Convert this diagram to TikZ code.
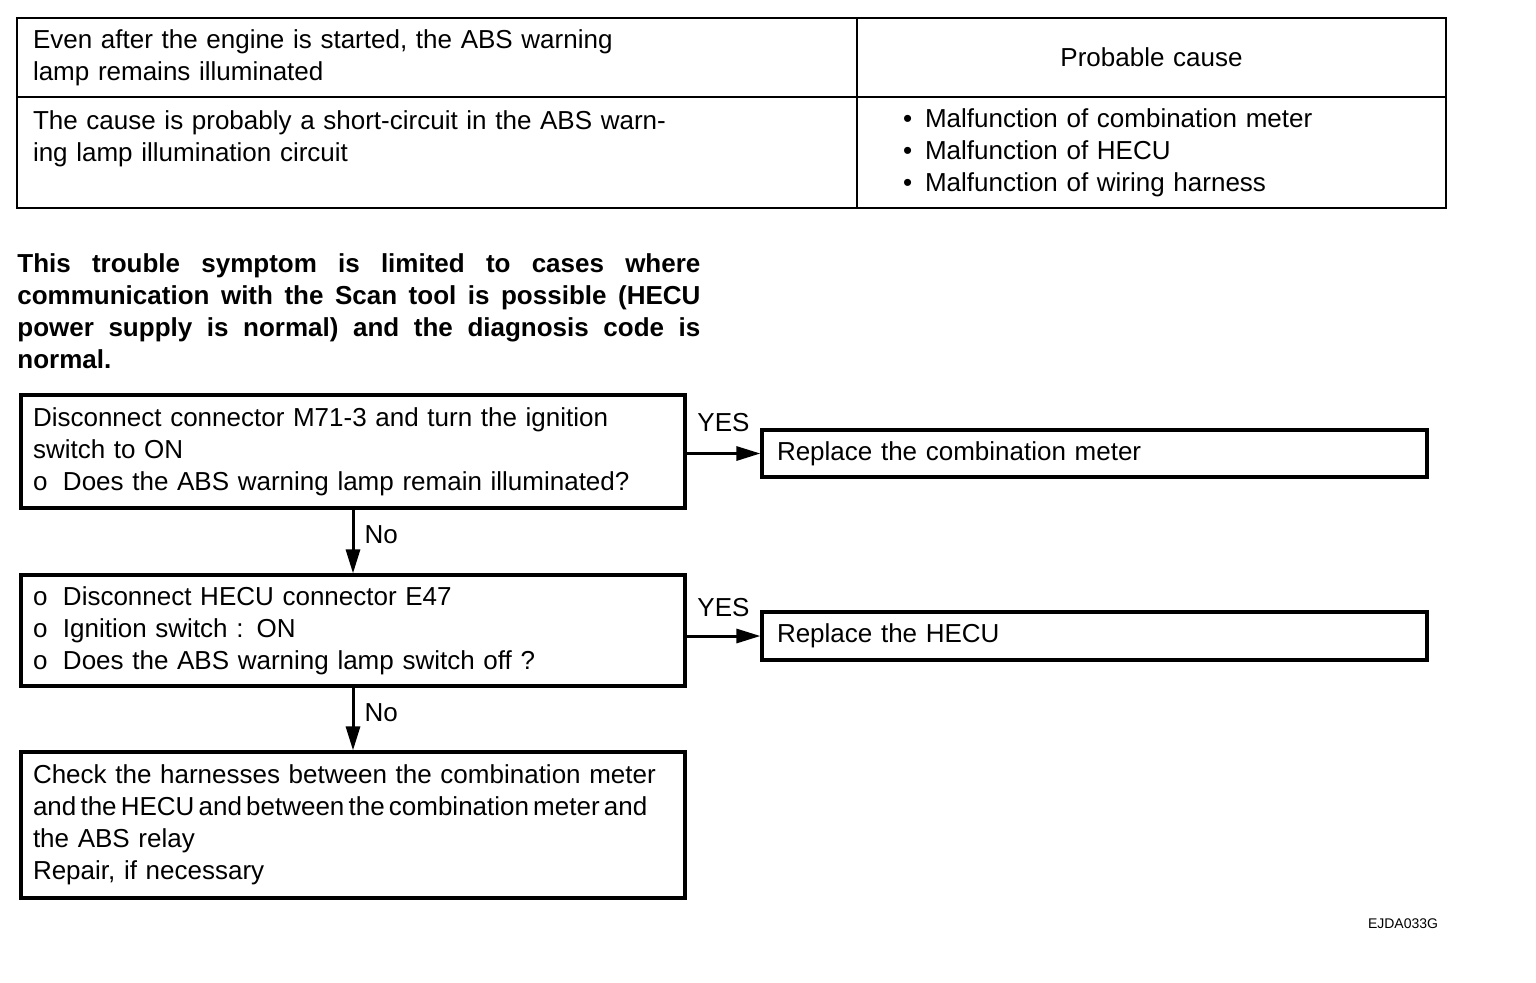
\documentclass[tikz,border=0pt]{standalone}
\usepackage{fontspec}
\setmainfont{Liberation Sans}
\usetikzlibrary{arrows.meta, positioning}

\begin{document}
\begin{tikzpicture}[x=0.5pt, y=-0.5pt,
  every node/.style={font=\fontsize{13}{16}\selectfont},
  tcell/.style={draw, line width=1.1pt, inner xsep=8pt, inner ysep=0pt, align=left},
  stepbox/.style={draw, line width=1.6pt, inner xsep=6pt, inner ysep=0pt, text width=320pt, align=left},
  fixbox/.style={draw, line width=1.6pt, inner xsep=7.5pt, inner ysep=0pt, text width=317.5pt, align=left},
  flow/.style={line width=1.5pt, -{Triangle[length=12pt, width=7pt]}},
  answer/.style={inner sep=1pt}]
  \useasboundingbox (0,0) rectangle (1536,982);

  % Symptom table
  \node[tcell, text width=404pt, minimum height=39.5pt] (symptom) at (437, 57.5) {Even after the engine is started, the ABS warning\\lamp remains illuminated};
  \node[tcell, text width=278.5pt, align=center, minimum height=39.5pt] (causehead) at (1151.5, 57.5) {Probable cause};
  \node[tcell, text width=404pt, minimum height=55.5pt] (reason) at (437, 152.5) {The cause is probably a short-circuit in the ABS warn-\\ing lamp illumination circuit\\\mbox{}};
  \node[tcell, inner xsep=23pt, text width=248.5pt, minimum height=55.5pt] (causes) at (1151.5, 152.5) {\makebox[11pt][l]{\textbullet}Malfunction of combination meter\\\makebox[11pt][l]{\textbullet}Malfunction of HECU\\\makebox[11pt][l]{\textbullet}Malfunction of wiring harness};

  % Note
  \node[anchor=north west, inner sep=0pt, text width=341.5pt, align=justify, font=\fontsize{13}{16}\selectfont\bfseries] (note) at (17, 253) {This trouble symptom is limited to cases where\linebreak communication with the Scan tool is possible (HECU\linebreak power supply is normal) and the diagnosis code is\linebreak normal.};

  % Checks
  \node[stepbox, minimum height=56.5pt] (meter) at (353, 451.5) {Disconnect connector M71-3 and turn the ignition\\switch to ON\\\makebox[15pt][l]{o}Does the ABS warning lamp remain illuminated?};
  \node[stepbox, minimum height=55.5pt] (hecu) at (353, 630.5) {\makebox[15pt][l]{o}Disconnect HECU connector E47\\\makebox[15pt][l]{o}Ignition switch : ON\\\makebox[15pt][l]{o}Does the ABS warning lamp switch off ?};
  \node[stepbox, minimum height=73pt] (harness) at (353, 825) {Check the harnesses between the combination meter\\{\spaceskip=0.16em\relax and the HECU and between the combination meter and}\\the ABS relay\\Repair, if necessary};

  % Repairs
  \node[fixbox, minimum height=23.5pt] (newmeter) at (1094.5, 453.5) {Replace the combination meter};
  \node[fixbox, minimum height=24pt] (newhecu) at (1094.5, 636) {Replace the HECU};

  % Connectors
  \draw[flow] (meter.east |- newmeter.west) -- node[answer, above=9pt] (yes1) {YES} (newmeter.west);
  \draw[flow] (hecu.east |- newhecu.west) -- node[answer, above=8pt] (yes2) {YES} (newhecu.west);
  \draw[flow] (meter.south) -- node[answer, pos=0.4, right=4pt] (no1) {No} (hecu.north);
  \draw[flow] (hecu.south) -- node[answer, pos=0.4, right=4pt] (no2) {No} (harness.north);

  \node[font=\fontsize{7}{8}\selectfont] (code) at (1403, 924) {EJDA033G};
\end{tikzpicture}
\end{document}
